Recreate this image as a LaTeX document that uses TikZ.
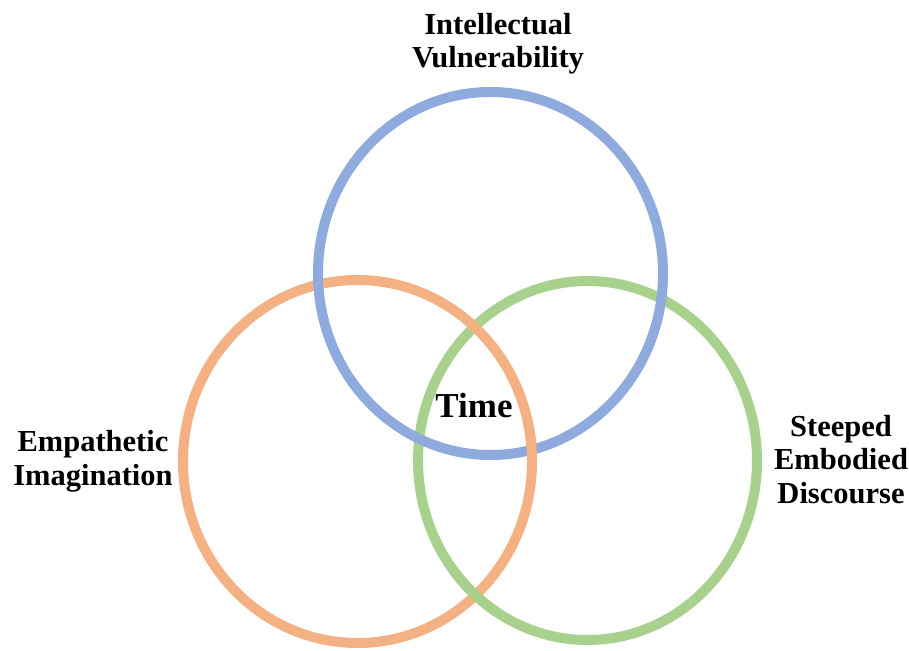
\documentclass[tikz,border=0pt]{standalone}
\usepackage{fontspec}
\setmainfont{Liberation Serif}
\definecolor{cblue}{HTML}{8FAADC}
\definecolor{corange}{HTML}{F4B183}
\definecolor{cgreen}{HTML}{A9D18E}
\begin{document}
\begin{tikzpicture}[x=1pt,y=-1pt,
  ring/.style={line width=10pt},
  lbl/.style={font=\bfseries\fontsize{30.5}{33.5}\selectfont, align=center, inner sep=0pt, anchor=base}]
\useasboundingbox[fill=white] (0,0) rectangle (909,650);
% circles
\draw[ring, cgreen] (587.5,460.5) ellipse [x radius=169.5, y radius=179.5];
\draw[ring, corange] (357.5,461.5) ellipse [x radius=174.5, y radius=181.5];
\draw[ring, cblue] (490.5,273.5) ellipse [x radius=172.5, y radius=181.5];
% weaving overlaps
\begin{scope}
  \clip (512,425) rectangle (548,470);
  \draw[ring, corange] (357.5,461.5) ellipse [x radius=174.5, y radius=181.5];
\end{scope}
\begin{scope}
  \clip (450,570) rectangle (500,615);
  \draw[ring, cgreen] (587.5,460.5) ellipse [x radius=169.5, y radius=179.5];
\end{scope}
% labels (anchor = baseline of last line)
\node[lbl] (iv) at (498,68) {Intellectual\\Vulnerability};
\node[lbl] (ei) at (93,485) {Empathetic\\Imagination};
\node[lbl] (sed) at (841,503) {Steeped\\Embodied\\Discourse};
\node[lbl, font=\bfseries\fontsize{35}{38}\selectfont] (t) at (474,417) {Time};
\end{tikzpicture}
\end{document}
